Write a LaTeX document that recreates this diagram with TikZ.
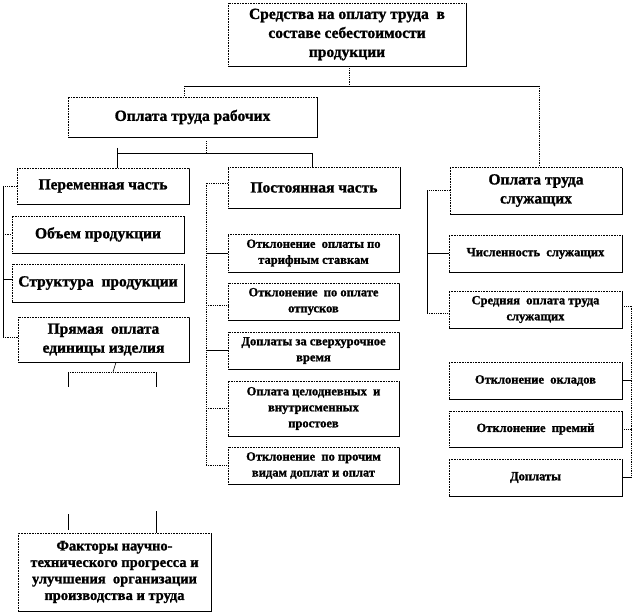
\documentclass[tikz,border=0pt]{standalone}
\usepackage{fontspec}
\setmainfont{Liberation Serif}[BoldFont={Liberation Serif Bold}, BoldFeatures={FakeBold=1.2}]
\usetikzlibrary{shadows}
\begin{document}
\begin{tikzpicture}[x=1pt,y=-1pt,
  box/.style={draw, densely dotted, line width=0.6pt, fill=white, inner sep=0pt, align=center,
    drop shadow={shadow xshift=1.2pt, shadow yshift=-1.2pt, fill=black, opacity=1}},
  big/.style={font=\fontsize{15.5}{19}\selectfont\bfseries},
  mid/.style={font=\fontsize{14.5}{16.5}\selectfont\bfseries},
  small/.style={font=\fontsize{12.5}{16}\selectfont\bfseries},
  conn/.style={line width=0.8pt},
  dconn/.style={line width=0.8pt, densely dotted}]
\fill[white] (0,0) rectangle (633,615);
\useasboundingbox (0,0) rectangle (633,615);

% level boxes
\node[box, big, minimum width=238pt, minimum height=63pt] (top) at (347,34.5)
  {Средства на оплату труда \ в\\составе себестоимости\\продукции};
\node[box, big, minimum width=249pt, minimum height=40pt] (rab) at (192.5,117) {Оплата труда рабочих};
\node[box, big, minimum width=172pt, minimum height=36pt] (per) at (103,186) {Переменная часть};
\node[box, big, minimum width=172pt, minimum height=41pt] (pos) at (314,187.5) {Постоянная часть};
\node[box, big, minimum width=172pt, minimum height=47pt] (slu) at (536,190.5) {Оплата труда\\служащих};

% left column
\node[box, big, minimum width=172pt, minimum height=37pt] (ob) at (98,234.5) {Объем продукции};
\node[box, big, minimum width=172pt, minimum height=38pt] (str) at (98,283) {Структура \ продукции};
\node[box, big, minimum width=171pt, minimum height=45pt] (pr) at (103.5,339.5) {Прямая \ оплата\\единицы изделия};
\node[box, mid, minimum width=193pt, minimum height=78pt] (fak) at (114.5,572)
  {Факторы научно-\\технического прогресса и\\улучшения \ организации\\производства и труда};

% middle column
\node[box, small, minimum width=171pt, minimum height=38pt] (m1) at (313.5,253) {Отклонение \ оплаты по\\тарифным ставкам};
\node[box, small, minimum width=171pt, minimum height=37pt] (m2) at (313.5,301.5) {Отклонение \ по оплате\\отпусков};
\node[box, small, minimum width=171pt, minimum height=37pt] (m3) at (313.5,350.5) {Доплаты за сверхурочное\\время};
\node[box, small, minimum width=171pt, minimum height=55pt] (m4) at (313.5,408.5) {Оплата целодневных \ и\\внутрисменных\\простоев};
\node[box, small, minimum width=171pt, minimum height=37pt] (m5) at (313.5,465.5) {Отклонение \ по прочим\\видам доплат и оплат};

% right column
\node[box, small, minimum width=173pt, minimum height=37pt] (r1) at (535.5,253.5) {Численность \ служащих};
\node[box, small, minimum width=173pt, minimum height=37pt] (r2) at (535.5,309.5) {Средняя \ оплата труда\\служащих};
\node[box, small, minimum width=173pt, minimum height=37pt] (r3) at (535.5,380.5) {Отклонение \ окладов};
\node[box, small, minimum width=173pt, minimum height=36pt] (r4) at (535.5,429) {Отклонение \ премий};
\node[box, small, minimum width=173pt, minimum height=37pt] (r5) at (535.5,477.5) {Доплаты};

% top connectors
\coordinate (b0) at (349,86);
\coordinate (b1) at (184,86);
\coordinate (b2) at (539,86);
\draw[dconn] (top.south -| b0) -- (b0);
\draw[conn] (b1) -- (b2);
\draw[dconn] (b1) -- (rab.north -| b1);
\draw[dconn] (b2) -- (slu.north -| b2);

% under rab
\coordinate (c0) at (206,153);
\coordinate (c1) at (117,153);
\coordinate (c2) at (312,153);
\draw[dconn] ([yshift=-4pt]rab.south -| c0) -- (c0);
\draw[conn] (c1) -- (c2);
\draw[conn] ([yshift=5pt]c1) -- (per.north -| c1);
\draw[conn] (c2) -- (pos.north -| c2);

% left bus
\coordinate (lx) at (3,0);
\draw[dconn] (per.west) -- (per.west -| lx);
\draw[conn] (per.west -| lx) -- ([yshift=2.5pt]pr.west -| lx);
\draw[dconn] ([yshift=2.5pt]pr.west -| lx) -- ([yshift=2.5pt]pr.west);
\draw[dconn] (ob.west -| lx) -- (ob.west);
\draw[conn] ([yshift=4pt]str.west -| lx) -- ([yshift=4pt]str.west);

% middle bus
\coordinate (mx) at (206,183);
\draw[dconn] (pos.west |- mx) -- (mx) -- (m5.west -| mx);
\draw[conn] (m1.west -| mx) -- (m1.west);
\draw[dconn] ([yshift=-4pt]m2.west -| mx) -- ([yshift=-4pt]m2.west);
\draw[conn] (m3.west -| mx) -- (m3.west);
\draw[dconn] (m4.west -| mx) -- (m4.west);
\draw[dconn] (m5.west -| mx) -- (m5.west);

% right bus
\coordinate (rx) at (427,0);
\draw[dconn] (slu.west) -- (slu.west -| rx);
\draw[conn] (slu.west -| rx) -- ([yshift=-3.5pt]r2.west -| rx);
\draw[conn] (r1.west -| rx) -- (r1.west);
\draw[dconn] ([yshift=-3.5pt]r2.west -| rx) -- ([yshift=-3.5pt]r2.west);

% far right bus
\coordinate (fx) at (631.5,0);
\draw[dconn] ([yshift=3.5pt]r2.east) -- ([yshift=3.5pt]r2.east -| fx) -- (r5.east -| fx);
\draw[conn] (r3.east) -- (r3.east -| fx);
\draw[dconn] (r4.east) -- (r4.east -| fx);
\draw[conn] (r5.east) -- (r5.east -| fx);

% below pr
\coordinate (d0) at (113,372);
\coordinate (d1) at (68,372);
\coordinate (d2) at (156,372);
\draw[conn, line width=0.6pt] ([xshift=12.5pt]pr.south) -- (d0);
\draw[dconn] (d1) -- (d2);
\draw[conn] (d1) -- ++(0,15);
\draw[conn] (d2) -- ++(0,15);

% above fak
\coordinate (e1) at (68,514);
\coordinate (e2) at (156,511);
\draw[conn] (e1) -- ++(0,16);
\draw[conn] (e2) -- (fak.north -| e2);
\end{tikzpicture}
\end{document}
